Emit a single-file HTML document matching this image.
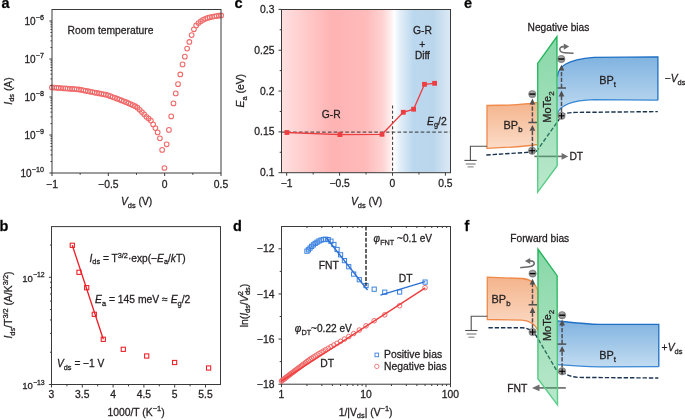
<!DOCTYPE html>
<html><head><meta charset="utf-8"><style>
html,body{margin:0;padding:0;background:#fff;}
svg{display:block;will-change:transform;font-family:"Liberation Sans", sans-serif;}
text{stroke:#231f20;stroke-width:0.28px;}
</style></head><body>
<svg width="685" height="420" viewBox="0 0 685 420">
<rect width="685" height="420" fill="#fff"/>
<text x="1.60" y="7.70" font-size="14.5" text-anchor="start" font-weight="bold" fill="#000" >a</text>
<text x="-0.60" y="230.60" font-size="14.5" text-anchor="start" font-weight="bold" fill="#000" >b</text>
<text x="234.60" y="7.90" font-size="14.5" text-anchor="start" font-weight="bold" fill="#000" >c</text>
<text x="232.90" y="230.70" font-size="14.5" text-anchor="start" font-weight="bold" fill="#000" >d</text>
<text x="463.90" y="7.90" font-size="14.5" text-anchor="start" font-weight="bold" fill="#000" >e</text>
<text x="464.40" y="230.80" font-size="14.5" text-anchor="start" font-weight="bold" fill="#000" >f</text>
<g fill="none" stroke="#f06a6a" stroke-width="1.05"><circle cx="164.40" cy="168.00" r="2.35"/><circle cx="162.15" cy="149.91" r="2.35"/><circle cx="159.90" cy="138.33" r="2.35"/><circle cx="157.65" cy="132.40" r="2.35"/><circle cx="155.40" cy="128.08" r="2.35"/><circle cx="153.15" cy="124.40" r="2.35"/><circle cx="150.90" cy="120.60" r="2.35"/><circle cx="148.65" cy="118.55" r="2.35"/><circle cx="146.40" cy="116.85" r="2.35"/><circle cx="144.15" cy="114.25" r="2.35"/><circle cx="141.90" cy="112.09" r="2.35"/><circle cx="139.65" cy="109.77" r="2.35"/><circle cx="137.40" cy="107.72" r="2.35"/><circle cx="135.15" cy="106.20" r="2.35"/><circle cx="132.90" cy="105.14" r="2.35"/><circle cx="130.65" cy="104.18" r="2.35"/><circle cx="128.40" cy="103.20" r="2.35"/><circle cx="126.15" cy="102.21" r="2.35"/><circle cx="123.90" cy="101.25" r="2.35"/><circle cx="121.65" cy="100.40" r="2.35"/><circle cx="119.40" cy="99.56" r="2.35"/><circle cx="117.15" cy="98.71" r="2.35"/><circle cx="114.90" cy="97.87" r="2.35"/><circle cx="112.65" cy="97.02" r="2.35"/><circle cx="110.40" cy="96.18" r="2.35"/><circle cx="108.15" cy="95.33" r="2.35"/><circle cx="105.90" cy="94.69" r="2.35"/><circle cx="103.65" cy="94.25" r="2.35"/><circle cx="101.40" cy="93.82" r="2.35"/><circle cx="99.15" cy="93.38" r="2.35"/><circle cx="96.90" cy="92.94" r="2.35"/><circle cx="94.65" cy="92.51" r="2.35"/><circle cx="92.40" cy="92.07" r="2.35"/><circle cx="90.15" cy="91.64" r="2.35"/><circle cx="87.90" cy="91.20" r="2.35"/><circle cx="85.65" cy="90.77" r="2.35"/><circle cx="83.40" cy="90.33" r="2.35"/><circle cx="81.15" cy="89.89" r="2.35"/><circle cx="78.90" cy="89.46" r="2.35"/><circle cx="76.65" cy="89.26" r="2.35"/><circle cx="74.40" cy="89.09" r="2.35"/><circle cx="72.15" cy="88.92" r="2.35"/><circle cx="69.90" cy="88.76" r="2.35"/><circle cx="67.65" cy="88.59" r="2.35"/><circle cx="65.40" cy="88.43" r="2.35"/><circle cx="63.15" cy="88.26" r="2.35"/><circle cx="60.90" cy="88.09" r="2.35"/><circle cx="58.65" cy="87.93" r="2.35"/><circle cx="56.40" cy="87.76" r="2.35"/><circle cx="54.15" cy="87.60" r="2.35"/><circle cx="51.90" cy="87.43" r="2.35"/><circle cx="166.67" cy="144.26" r="2.35"/><circle cx="168.94" cy="129.91" r="2.35"/><circle cx="171.21" cy="116.43" r="2.35"/><circle cx="173.48" cy="103.40" r="2.35"/><circle cx="175.75" cy="93.40" r="2.35"/><circle cx="178.02" cy="84.13" r="2.35"/><circle cx="180.29" cy="74.47" r="2.35"/><circle cx="182.56" cy="64.39" r="2.35"/><circle cx="184.83" cy="56.64" r="2.35"/><circle cx="187.10" cy="48.61" r="2.35"/><circle cx="189.37" cy="41.99" r="2.35"/><circle cx="191.64" cy="35.12" r="2.35"/><circle cx="193.91" cy="29.28" r="2.35"/><circle cx="196.18" cy="25.38" r="2.35"/><circle cx="198.45" cy="23.00" r="2.35"/><circle cx="200.72" cy="21.32" r="2.35"/><circle cx="202.99" cy="19.87" r="2.35"/><circle cx="205.26" cy="18.79" r="2.35"/><circle cx="207.53" cy="17.91" r="2.35"/><circle cx="209.80" cy="17.36" r="2.35"/><circle cx="212.07" cy="16.85" r="2.35"/><circle cx="214.34" cy="16.34" r="2.35"/><circle cx="216.61" cy="16.01" r="2.35"/><circle cx="218.88" cy="15.72" r="2.35"/><circle cx="221.15" cy="15.45" r="2.35"/></g>
<rect x="52.00" y="9.50" width="169.00" height="163.50" fill="none" stroke="#3a3a3a" stroke-width="1"/>
<line x1="52.00" y1="173.00" x2="52.00" y2="176.00" stroke="#3a3a3a" stroke-width="1" />
<line x1="108.33" y1="173.00" x2="108.33" y2="176.00" stroke="#3a3a3a" stroke-width="1" />
<line x1="164.67" y1="173.00" x2="164.67" y2="176.00" stroke="#3a3a3a" stroke-width="1" />
<line x1="221.00" y1="173.00" x2="221.00" y2="176.00" stroke="#3a3a3a" stroke-width="1" />
<line x1="80.17" y1="173.00" x2="80.17" y2="174.80" stroke="#3a3a3a" stroke-width="1" />
<line x1="136.50" y1="173.00" x2="136.50" y2="174.80" stroke="#3a3a3a" stroke-width="1" />
<line x1="192.83" y1="173.00" x2="192.83" y2="174.80" stroke="#3a3a3a" stroke-width="1" />
<text x="52.00" y="187.60" font-size="10.35" text-anchor="middle" font-weight="normal" fill="#231f20" >−1</text>
<text x="108.33" y="187.60" font-size="10.35" text-anchor="middle" font-weight="normal" fill="#231f20" >−0.5</text>
<text x="164.67" y="187.60" font-size="10.35" text-anchor="middle" font-weight="normal" fill="#231f20" >0</text>
<text x="221.00" y="187.60" font-size="10.35" text-anchor="middle" font-weight="normal" fill="#231f20" >0.5</text>
<line x1="49.40" y1="173.00" x2="52.00" y2="173.00" stroke="#3a3a3a" stroke-width="1" />
<line x1="50.50" y1="161.56" x2="52.00" y2="161.56" stroke="#3a3a3a" stroke-width="1" />
<line x1="50.50" y1="154.87" x2="52.00" y2="154.87" stroke="#3a3a3a" stroke-width="1" />
<line x1="50.50" y1="150.12" x2="52.00" y2="150.12" stroke="#3a3a3a" stroke-width="1" />
<line x1="50.50" y1="146.44" x2="52.00" y2="146.44" stroke="#3a3a3a" stroke-width="1" />
<line x1="50.50" y1="143.43" x2="52.00" y2="143.43" stroke="#3a3a3a" stroke-width="1" />
<line x1="50.50" y1="140.89" x2="52.00" y2="140.89" stroke="#3a3a3a" stroke-width="1" />
<line x1="50.50" y1="138.68" x2="52.00" y2="138.68" stroke="#3a3a3a" stroke-width="1" />
<line x1="50.50" y1="136.74" x2="52.00" y2="136.74" stroke="#3a3a3a" stroke-width="1" />
<line x1="49.40" y1="135.00" x2="52.00" y2="135.00" stroke="#3a3a3a" stroke-width="1" />
<line x1="50.50" y1="123.56" x2="52.00" y2="123.56" stroke="#3a3a3a" stroke-width="1" />
<line x1="50.50" y1="116.87" x2="52.00" y2="116.87" stroke="#3a3a3a" stroke-width="1" />
<line x1="50.50" y1="112.12" x2="52.00" y2="112.12" stroke="#3a3a3a" stroke-width="1" />
<line x1="50.50" y1="108.44" x2="52.00" y2="108.44" stroke="#3a3a3a" stroke-width="1" />
<line x1="50.50" y1="105.43" x2="52.00" y2="105.43" stroke="#3a3a3a" stroke-width="1" />
<line x1="50.50" y1="102.89" x2="52.00" y2="102.89" stroke="#3a3a3a" stroke-width="1" />
<line x1="50.50" y1="100.68" x2="52.00" y2="100.68" stroke="#3a3a3a" stroke-width="1" />
<line x1="50.50" y1="98.74" x2="52.00" y2="98.74" stroke="#3a3a3a" stroke-width="1" />
<line x1="49.40" y1="97.00" x2="52.00" y2="97.00" stroke="#3a3a3a" stroke-width="1" />
<line x1="50.50" y1="85.56" x2="52.00" y2="85.56" stroke="#3a3a3a" stroke-width="1" />
<line x1="50.50" y1="78.87" x2="52.00" y2="78.87" stroke="#3a3a3a" stroke-width="1" />
<line x1="50.50" y1="74.12" x2="52.00" y2="74.12" stroke="#3a3a3a" stroke-width="1" />
<line x1="50.50" y1="70.44" x2="52.00" y2="70.44" stroke="#3a3a3a" stroke-width="1" />
<line x1="50.50" y1="67.43" x2="52.00" y2="67.43" stroke="#3a3a3a" stroke-width="1" />
<line x1="50.50" y1="64.89" x2="52.00" y2="64.89" stroke="#3a3a3a" stroke-width="1" />
<line x1="50.50" y1="62.68" x2="52.00" y2="62.68" stroke="#3a3a3a" stroke-width="1" />
<line x1="50.50" y1="60.74" x2="52.00" y2="60.74" stroke="#3a3a3a" stroke-width="1" />
<line x1="49.40" y1="59.00" x2="52.00" y2="59.00" stroke="#3a3a3a" stroke-width="1" />
<line x1="50.50" y1="47.56" x2="52.00" y2="47.56" stroke="#3a3a3a" stroke-width="1" />
<line x1="50.50" y1="40.87" x2="52.00" y2="40.87" stroke="#3a3a3a" stroke-width="1" />
<line x1="50.50" y1="36.12" x2="52.00" y2="36.12" stroke="#3a3a3a" stroke-width="1" />
<line x1="50.50" y1="32.44" x2="52.00" y2="32.44" stroke="#3a3a3a" stroke-width="1" />
<line x1="50.50" y1="29.43" x2="52.00" y2="29.43" stroke="#3a3a3a" stroke-width="1" />
<line x1="50.50" y1="26.89" x2="52.00" y2="26.89" stroke="#3a3a3a" stroke-width="1" />
<line x1="50.50" y1="24.68" x2="52.00" y2="24.68" stroke="#3a3a3a" stroke-width="1" />
<line x1="50.50" y1="22.74" x2="52.00" y2="22.74" stroke="#3a3a3a" stroke-width="1" />
<line x1="49.40" y1="21.00" x2="52.00" y2="21.00" stroke="#3a3a3a" stroke-width="1" />
<text x="43.90" y="176.70" font-size="10" text-anchor="end" fill="#231f20" ><tspan dy="-0.0">10</tspan><tspan dy="-4.9" font-size="7.20">−10</tspan></text>
<text x="43.90" y="138.70" font-size="10" text-anchor="end" fill="#231f20" ><tspan dy="-0.0">10</tspan><tspan dy="-4.9" font-size="7.20">−9</tspan></text>
<text x="43.90" y="100.70" font-size="10" text-anchor="end" fill="#231f20" ><tspan dy="-0.0">10</tspan><tspan dy="-4.9" font-size="7.20">−8</tspan></text>
<text x="43.90" y="62.70" font-size="10" text-anchor="end" fill="#231f20" ><tspan dy="-0.0">10</tspan><tspan dy="-4.9" font-size="7.20">−7</tspan></text>
<text x="43.90" y="24.70" font-size="10" text-anchor="end" fill="#231f20" ><tspan dy="-0.0">10</tspan><tspan dy="-4.9" font-size="7.20">−6</tspan></text>
<text x="0.00" y="0.00" font-size="10.35" text-anchor="start" fill="#231f20" ><tspan dy="-0.0"></tspan></text>
<g transform="translate(11.5,91) rotate(-90)">
<text x="0.00" y="0.00" font-size="10.35" text-anchor="middle" fill="#231f20" ><tspan dy="-0.0" font-style="italic">I</tspan><tspan dy="2.5" font-size="7.45">ds</tspan><tspan dy="-2.5"> (A)</tspan></text>
</g>
<text x="136.60" y="205.20" font-size="10.35" text-anchor="middle" fill="#231f20" ><tspan dy="-0.0" font-style="italic">V</tspan><tspan dy="2.5" font-size="7.45">ds</tspan><tspan dy="-2.5"> (V)</tspan></text>
<text x="67.60" y="34.10" font-size="10.3" text-anchor="start" font-weight="normal" fill="#231f20" >Room temperature</text>
<rect x="51.50" y="226.60" width="169.00" height="157.90" fill="none" stroke="#3a3a3a" stroke-width="1"/>
<line x1="51.50" y1="384.50" x2="51.50" y2="387.50" stroke="#3a3a3a" stroke-width="1" />
<line x1="82.30" y1="384.50" x2="82.30" y2="387.50" stroke="#3a3a3a" stroke-width="1" />
<line x1="113.10" y1="384.50" x2="113.10" y2="387.50" stroke="#3a3a3a" stroke-width="1" />
<line x1="143.90" y1="384.50" x2="143.90" y2="387.50" stroke="#3a3a3a" stroke-width="1" />
<line x1="174.70" y1="384.50" x2="174.70" y2="387.50" stroke="#3a3a3a" stroke-width="1" />
<line x1="205.50" y1="384.50" x2="205.50" y2="387.50" stroke="#3a3a3a" stroke-width="1" />
<line x1="66.90" y1="384.50" x2="66.90" y2="386.30" stroke="#3a3a3a" stroke-width="1" />
<line x1="97.70" y1="384.50" x2="97.70" y2="386.30" stroke="#3a3a3a" stroke-width="1" />
<line x1="128.50" y1="384.50" x2="128.50" y2="386.30" stroke="#3a3a3a" stroke-width="1" />
<line x1="159.30" y1="384.50" x2="159.30" y2="386.30" stroke="#3a3a3a" stroke-width="1" />
<line x1="190.10" y1="384.50" x2="190.10" y2="386.30" stroke="#3a3a3a" stroke-width="1" />
<text x="51.50" y="398.00" font-size="10.35" text-anchor="middle" font-weight="normal" fill="#231f20" >3</text>
<text x="82.30" y="398.00" font-size="10.35" text-anchor="middle" font-weight="normal" fill="#231f20" >3.5</text>
<text x="113.10" y="398.00" font-size="10.35" text-anchor="middle" font-weight="normal" fill="#231f20" >4</text>
<text x="143.90" y="398.00" font-size="10.35" text-anchor="middle" font-weight="normal" fill="#231f20" >4.5</text>
<text x="174.70" y="398.00" font-size="10.35" text-anchor="middle" font-weight="normal" fill="#231f20" >5</text>
<text x="205.50" y="398.00" font-size="10.35" text-anchor="middle" font-weight="normal" fill="#231f20" >5.5</text>
<line x1="48.90" y1="384.50" x2="51.50" y2="384.50" stroke="#3a3a3a" stroke-width="1" />
<line x1="48.90" y1="277.30" x2="51.50" y2="277.30" stroke="#3a3a3a" stroke-width="1" />
<line x1="50.00" y1="352.23" x2="51.50" y2="352.23" stroke="#3a3a3a" stroke-width="1" />
<line x1="50.00" y1="333.35" x2="51.50" y2="333.35" stroke="#3a3a3a" stroke-width="1" />
<line x1="50.00" y1="319.96" x2="51.50" y2="319.96" stroke="#3a3a3a" stroke-width="1" />
<line x1="50.00" y1="309.57" x2="51.50" y2="309.57" stroke="#3a3a3a" stroke-width="1" />
<line x1="50.00" y1="301.08" x2="51.50" y2="301.08" stroke="#3a3a3a" stroke-width="1" />
<line x1="50.00" y1="293.91" x2="51.50" y2="293.91" stroke="#3a3a3a" stroke-width="1" />
<line x1="50.00" y1="287.69" x2="51.50" y2="287.69" stroke="#3a3a3a" stroke-width="1" />
<line x1="50.00" y1="282.21" x2="51.50" y2="282.21" stroke="#3a3a3a" stroke-width="1" />
<line x1="50.00" y1="245.03" x2="51.50" y2="245.03" stroke="#3a3a3a" stroke-width="1" />
<text x="44.60" y="388.90" font-size="9.6" text-anchor="end" fill="#231f20" ><tspan dy="-0.0">10</tspan><tspan dy="-4.3" font-size="6.91">−13</tspan></text>
<text x="44.60" y="281.70" font-size="9.6" text-anchor="end" fill="#231f20" ><tspan dy="-0.0">10</tspan><tspan dy="-4.3" font-size="6.91">−12</tspan></text>
<line x1="72.30" y1="245.30" x2="103.30" y2="339.30" stroke="#ed1c24" stroke-width="1.3" />
<g fill="none" stroke="#ed1c24" stroke-width="1.05"><rect x="70.20" y="243.20" width="4.2" height="4.2"/><rect x="76.90" y="270.20" width="4.2" height="4.2"/><rect x="84.60" y="285.60" width="4.2" height="4.2"/><rect x="92.20" y="312.20" width="4.2" height="4.2"/><rect x="101.20" y="337.20" width="4.2" height="4.2"/><rect x="121.20" y="347.20" width="4.2" height="4.2"/><rect x="144.60" y="353.90" width="4.2" height="4.2"/><rect x="172.50" y="360.40" width="4.2" height="4.2"/><rect x="206.50" y="365.90" width="4.2" height="4.2"/></g>
<text x="89.50" y="261.90" font-size="10.2" text-anchor="start" fill="#231f20" ><tspan dy="-0.0" font-style="italic">I</tspan><tspan dy="2.5" font-size="7.34">ds</tspan><tspan dy="-2.5"> = T</tspan><tspan dy="-4.4" font-size="7.34">3/2</tspan><tspan dy="4.4">·exp(−</tspan><tspan dy="0" font-style="italic">E</tspan><tspan dy="2.5" font-size="7.34">a</tspan><tspan dy="-2.5">/</tspan><tspan dy="0" font-style="italic">k</tspan><tspan dy="0">T)</tspan></text>
<text x="95.00" y="303.10" font-size="10.35" text-anchor="start" fill="#231f20" ><tspan dy="-0.0" font-style="italic">E</tspan><tspan dy="2.5" font-size="7.45">a</tspan><tspan dy="-2.5"> = 145 meV ≈ </tspan><tspan dy="0" font-style="italic">E</tspan><tspan dy="2.5" font-size="7.45">g</tspan><tspan dy="-2.5">/2</tspan></text>
<text x="57.00" y="367.10" font-size="10.2" text-anchor="start" fill="#231f20" ><tspan dy="-0.0" font-style="italic">V</tspan><tspan dy="2.5" font-size="7.34">ds</tspan><tspan dy="-2.5"> = −1 V</tspan></text>
<g transform="translate(12.2,305) rotate(-90)">
<text x="0.00" y="0.00" font-size="10.35" text-anchor="middle" fill="#231f20" ><tspan dy="-0.0" font-style="italic">I</tspan><tspan dy="2.5" font-size="7.45">ds</tspan><tspan dy="-2.5">/T</tspan><tspan dy="-4.4" font-size="7.45">3/2</tspan><tspan dy="4.4"> (A/K</tspan><tspan dy="-4.4" font-size="7.45">3/2</tspan><tspan dy="4.4">)</tspan></text>
</g>
<text x="136.00" y="415.50" font-size="10.35" text-anchor="middle" fill="#231f20" ><tspan dy="-0.0">1000/T (K</tspan><tspan dy="-4.4" font-size="7.45">−1</tspan><tspan dy="4.4">)</tspan></text>
<defs>
<linearGradient id="gc" x1="281.3" y1="0" x2="450.3" y2="0" gradientUnits="userSpaceOnUse">
<stop offset="0" stop-color="#ffe0e0"/>
<stop offset="0.3" stop-color="#ffb3b3"/>
<stop offset="0.5" stop-color="#ffbaba"/>
<stop offset="0.6" stop-color="#ffd3d3"/>
<stop offset="0.65" stop-color="#fff0f0"/>
<stop offset="0.668" stop-color="#ffffff"/>
<stop offset="0.7" stop-color="#e4eff8"/>
<stop offset="0.78" stop-color="#bcd8ee"/>
<stop offset="0.9" stop-color="#bad6ec"/>
<stop offset="1" stop-color="#dde9f5"/>
</linearGradient>
</defs>
<rect x="281.5" y="9.5" width="169.0" height="163.2" fill="url(#gc)"/>
<line x1="281.50" y1="132.10" x2="450.50" y2="132.10" stroke="#333" stroke-width="1" stroke-dasharray="3.6 2.2"/>
<line x1="392.60" y1="105.50" x2="392.60" y2="172.70" stroke="#333" stroke-width="1" stroke-dasharray="3 2.2"/>
<polyline fill="none" stroke="#ec3d40" stroke-width="1.35" points="286.9,132.5 339.9,134.6 382,134.3 403.3,112.3 413.6,109.2 424.5,84.3 434.6,83.3"/>
<g fill="#ec3d40"><rect x="284.50" y="130.10" width="4.8" height="4.8"/><rect x="337.50" y="132.20" width="4.8" height="4.8"/><rect x="379.60" y="131.90" width="4.8" height="4.8"/><rect x="400.90" y="109.90" width="4.8" height="4.8"/><rect x="411.20" y="106.80" width="4.8" height="4.8"/><rect x="422.10" y="81.90" width="4.8" height="4.8"/><rect x="432.20" y="80.90" width="4.8" height="4.8"/></g>
<rect x="281.50" y="9.50" width="169.00" height="163.20" fill="none" stroke="#3a3a3a" stroke-width="1"/>
<line x1="286.70" y1="172.70" x2="286.70" y2="175.70" stroke="#3a3a3a" stroke-width="1" />
<line x1="339.60" y1="172.70" x2="339.60" y2="175.70" stroke="#3a3a3a" stroke-width="1" />
<line x1="392.50" y1="172.70" x2="392.50" y2="175.70" stroke="#3a3a3a" stroke-width="1" />
<line x1="445.40" y1="172.70" x2="445.40" y2="175.70" stroke="#3a3a3a" stroke-width="1" />
<line x1="313.15" y1="172.70" x2="313.15" y2="174.50" stroke="#3a3a3a" stroke-width="1" />
<line x1="366.05" y1="172.70" x2="366.05" y2="174.50" stroke="#3a3a3a" stroke-width="1" />
<line x1="418.95" y1="172.70" x2="418.95" y2="174.50" stroke="#3a3a3a" stroke-width="1" />
<text x="286.70" y="186.80" font-size="10.35" text-anchor="middle" font-weight="normal" fill="#231f20" >−1</text>
<text x="339.60" y="186.80" font-size="10.35" text-anchor="middle" font-weight="normal" fill="#231f20" >−0.5</text>
<text x="392.50" y="186.80" font-size="10.35" text-anchor="middle" font-weight="normal" fill="#231f20" >0</text>
<text x="445.40" y="186.80" font-size="10.35" text-anchor="middle" font-weight="normal" fill="#231f20" >0.5</text>
<line x1="278.50" y1="172.70" x2="281.50" y2="172.70" stroke="#3a3a3a" stroke-width="1" />
<text x="274.40" y="176.30" font-size="10.35" text-anchor="end" font-weight="normal" fill="#231f20" >0.1</text>
<line x1="278.50" y1="131.88" x2="281.50" y2="131.88" stroke="#3a3a3a" stroke-width="1" />
<text x="274.40" y="135.47" font-size="10.35" text-anchor="end" font-weight="normal" fill="#231f20" >0.15</text>
<line x1="278.50" y1="91.05" x2="281.50" y2="91.05" stroke="#3a3a3a" stroke-width="1" />
<text x="274.40" y="94.65" font-size="10.35" text-anchor="end" font-weight="normal" fill="#231f20" >0.2</text>
<line x1="278.50" y1="50.22" x2="281.50" y2="50.22" stroke="#3a3a3a" stroke-width="1" />
<text x="274.40" y="53.82" font-size="10.35" text-anchor="end" font-weight="normal" fill="#231f20" >0.25</text>
<line x1="278.50" y1="9.40" x2="281.50" y2="9.40" stroke="#3a3a3a" stroke-width="1" />
<text x="274.40" y="13.00" font-size="10.35" text-anchor="end" font-weight="normal" fill="#231f20" >0.3</text>
<line x1="279.70" y1="152.29" x2="281.50" y2="152.29" stroke="#3a3a3a" stroke-width="1" />
<line x1="279.70" y1="111.46" x2="281.50" y2="111.46" stroke="#3a3a3a" stroke-width="1" />
<line x1="279.70" y1="70.64" x2="281.50" y2="70.64" stroke="#3a3a3a" stroke-width="1" />
<line x1="279.70" y1="29.81" x2="281.50" y2="29.81" stroke="#3a3a3a" stroke-width="1" />
<text x="321.70" y="118.00" font-size="10.35" text-anchor="start" font-weight="normal" fill="#231f20" >G-R</text>
<text x="412.90" y="34.00" font-size="10.35" text-anchor="start" font-weight="normal" fill="#231f20" >G-R</text>
<text x="422.20" y="47.60" font-size="10.35" text-anchor="middle" font-weight="normal" fill="#231f20" >+</text>
<text x="414.90" y="58.50" font-size="10.1" text-anchor="start" font-weight="normal" fill="#231f20" >Diff</text>
<text x="427.00" y="124.50" font-size="10.35" text-anchor="start" fill="#231f20" ><tspan dy="-0.0" font-style="italic">E</tspan><tspan dy="2.5" font-size="7.45">g</tspan><tspan dy="-2.5">/2</tspan></text>
<g transform="translate(244.1,90.7) rotate(-90)">
<text x="0.00" y="0.00" font-size="10.35" text-anchor="middle" fill="#231f20" ><tspan dy="-0.0" font-style="italic">E</tspan><tspan dy="2.5" font-size="7.45">a</tspan><tspan dy="-2.5"> (eV)</tspan></text>
</g>
<text x="366.60" y="205.40" font-size="10.35" text-anchor="middle" fill="#231f20" ><tspan dy="-0.0" font-style="italic">V</tspan><tspan dy="2.5" font-size="7.45">ds</tspan><tspan dy="-2.5"> (V)</tspan></text>
<rect x="281.50" y="226.50" width="169.00" height="157.70" fill="none" stroke="#3a3a3a" stroke-width="1"/>
<line x1="281.50" y1="384.20" x2="281.50" y2="387.20" stroke="#3a3a3a" stroke-width="1" />
<text x="281.50" y="397.70" font-size="10.35" text-anchor="middle" font-weight="normal" fill="#231f20" >1</text>
<line x1="366.00" y1="384.20" x2="366.00" y2="387.20" stroke="#3a3a3a" stroke-width="1" />
<text x="366.00" y="397.70" font-size="10.35" text-anchor="middle" font-weight="normal" fill="#231f20" >10</text>
<line x1="450.50" y1="384.20" x2="450.50" y2="387.20" stroke="#3a3a3a" stroke-width="1" />
<text x="450.50" y="397.70" font-size="10.35" text-anchor="middle" font-weight="normal" fill="#231f20" >100</text>
<line x1="306.94" y1="384.20" x2="306.94" y2="386.00" stroke="#3a3a3a" stroke-width="1" />
<line x1="306.94" y1="226.50" x2="306.94" y2="228.00" stroke="#3a3a3a" stroke-width="1" />
<line x1="321.82" y1="384.20" x2="321.82" y2="386.00" stroke="#3a3a3a" stroke-width="1" />
<line x1="321.82" y1="226.50" x2="321.82" y2="228.00" stroke="#3a3a3a" stroke-width="1" />
<line x1="332.37" y1="384.20" x2="332.37" y2="386.00" stroke="#3a3a3a" stroke-width="1" />
<line x1="332.37" y1="226.50" x2="332.37" y2="228.00" stroke="#3a3a3a" stroke-width="1" />
<line x1="340.56" y1="384.20" x2="340.56" y2="386.00" stroke="#3a3a3a" stroke-width="1" />
<line x1="340.56" y1="226.50" x2="340.56" y2="228.00" stroke="#3a3a3a" stroke-width="1" />
<line x1="347.25" y1="384.20" x2="347.25" y2="386.00" stroke="#3a3a3a" stroke-width="1" />
<line x1="347.25" y1="226.50" x2="347.25" y2="228.00" stroke="#3a3a3a" stroke-width="1" />
<line x1="352.91" y1="384.20" x2="352.91" y2="386.00" stroke="#3a3a3a" stroke-width="1" />
<line x1="352.91" y1="226.50" x2="352.91" y2="228.00" stroke="#3a3a3a" stroke-width="1" />
<line x1="357.81" y1="384.20" x2="357.81" y2="386.00" stroke="#3a3a3a" stroke-width="1" />
<line x1="357.81" y1="226.50" x2="357.81" y2="228.00" stroke="#3a3a3a" stroke-width="1" />
<line x1="362.13" y1="384.20" x2="362.13" y2="386.00" stroke="#3a3a3a" stroke-width="1" />
<line x1="362.13" y1="226.50" x2="362.13" y2="228.00" stroke="#3a3a3a" stroke-width="1" />
<line x1="391.44" y1="384.20" x2="391.44" y2="386.00" stroke="#3a3a3a" stroke-width="1" />
<line x1="391.44" y1="226.50" x2="391.44" y2="228.00" stroke="#3a3a3a" stroke-width="1" />
<line x1="406.32" y1="384.20" x2="406.32" y2="386.00" stroke="#3a3a3a" stroke-width="1" />
<line x1="406.32" y1="226.50" x2="406.32" y2="228.00" stroke="#3a3a3a" stroke-width="1" />
<line x1="416.87" y1="384.20" x2="416.87" y2="386.00" stroke="#3a3a3a" stroke-width="1" />
<line x1="416.87" y1="226.50" x2="416.87" y2="228.00" stroke="#3a3a3a" stroke-width="1" />
<line x1="425.06" y1="384.20" x2="425.06" y2="386.00" stroke="#3a3a3a" stroke-width="1" />
<line x1="425.06" y1="226.50" x2="425.06" y2="228.00" stroke="#3a3a3a" stroke-width="1" />
<line x1="431.75" y1="384.20" x2="431.75" y2="386.00" stroke="#3a3a3a" stroke-width="1" />
<line x1="431.75" y1="226.50" x2="431.75" y2="228.00" stroke="#3a3a3a" stroke-width="1" />
<line x1="437.41" y1="384.20" x2="437.41" y2="386.00" stroke="#3a3a3a" stroke-width="1" />
<line x1="437.41" y1="226.50" x2="437.41" y2="228.00" stroke="#3a3a3a" stroke-width="1" />
<line x1="442.31" y1="384.20" x2="442.31" y2="386.00" stroke="#3a3a3a" stroke-width="1" />
<line x1="442.31" y1="226.50" x2="442.31" y2="228.00" stroke="#3a3a3a" stroke-width="1" />
<line x1="446.63" y1="384.20" x2="446.63" y2="386.00" stroke="#3a3a3a" stroke-width="1" />
<line x1="446.63" y1="226.50" x2="446.63" y2="228.00" stroke="#3a3a3a" stroke-width="1" />
<line x1="278.50" y1="248.80" x2="281.50" y2="248.80" stroke="#3a3a3a" stroke-width="1" />
<text x="274.40" y="252.40" font-size="10.35" text-anchor="end" font-weight="normal" fill="#231f20" >−12</text>
<line x1="278.50" y1="293.94" x2="281.50" y2="293.94" stroke="#3a3a3a" stroke-width="1" />
<text x="274.40" y="297.54" font-size="10.35" text-anchor="end" font-weight="normal" fill="#231f20" >−14</text>
<line x1="278.50" y1="339.08" x2="281.50" y2="339.08" stroke="#3a3a3a" stroke-width="1" />
<text x="274.40" y="342.68" font-size="10.35" text-anchor="end" font-weight="normal" fill="#231f20" >−16</text>
<line x1="278.50" y1="384.22" x2="281.50" y2="384.22" stroke="#3a3a3a" stroke-width="1" />
<text x="274.40" y="387.82" font-size="10.35" text-anchor="end" font-weight="normal" fill="#231f20" >−18</text>
<line x1="279.70" y1="271.37" x2="281.50" y2="271.37" stroke="#3a3a3a" stroke-width="1" />
<line x1="279.70" y1="316.51" x2="281.50" y2="316.51" stroke="#3a3a3a" stroke-width="1" />
<line x1="279.70" y1="361.65" x2="281.50" y2="361.65" stroke="#3a3a3a" stroke-width="1" />
<g fill="none" stroke="#f06a6a" stroke-width="1"><circle cx="425.06" cy="287.69" r="2.3"/><circle cx="399.63" cy="305.71" r="2.3"/><circle cx="384.75" cy="314.84" r="2.3"/><circle cx="374.19" cy="320.73" r="2.3"/><circle cx="366.00" cy="325.84" r="2.3"/><circle cx="359.31" cy="330.04" r="2.3"/><circle cx="353.65" cy="333.59" r="2.3"/><circle cx="348.75" cy="336.60" r="2.3"/><circle cx="344.43" cy="339.10" r="2.3"/><circle cx="340.56" cy="341.34" r="2.3"/><circle cx="337.07" cy="343.30" r="2.3"/><circle cx="333.87" cy="345.08" r="2.3"/><circle cx="330.93" cy="346.72" r="2.3"/><circle cx="328.22" cy="348.27" r="2.3"/><circle cx="325.68" cy="349.74" r="2.3"/><circle cx="323.31" cy="351.11" r="2.3"/><circle cx="321.09" cy="352.39" r="2.3"/><circle cx="318.99" cy="353.65" r="2.3"/><circle cx="317.01" cy="354.87" r="2.3"/><circle cx="315.13" cy="356.03" r="2.3"/><circle cx="313.34" cy="357.14" r="2.3"/><circle cx="311.63" cy="358.20" r="2.3"/><circle cx="310.00" cy="359.20" r="2.3"/><circle cx="308.44" cy="360.40" r="2.3"/><circle cx="306.94" cy="361.55" r="2.3"/><circle cx="305.50" cy="362.66" r="2.3"/><circle cx="304.11" cy="363.72" r="2.3"/><circle cx="302.78" cy="364.75" r="2.3"/><circle cx="301.49" cy="365.74" r="2.3"/><circle cx="300.25" cy="366.69" r="2.3"/><circle cx="299.04" cy="367.61" r="2.3"/><circle cx="297.88" cy="368.49" r="2.3"/><circle cx="296.75" cy="369.35" r="2.3"/><circle cx="295.65" cy="370.18" r="2.3"/><circle cx="294.59" cy="370.98" r="2.3"/><circle cx="293.56" cy="371.77" r="2.3"/><circle cx="292.55" cy="372.53" r="2.3"/><circle cx="291.57" cy="373.27" r="2.3"/><circle cx="290.62" cy="373.99" r="2.3"/><circle cx="289.69" cy="374.70" r="2.3"/><circle cx="288.78" cy="375.41" r="2.3"/><circle cx="287.90" cy="376.09" r="2.3"/><circle cx="287.03" cy="376.76" r="2.3"/><circle cx="286.19" cy="377.41" r="2.3"/><circle cx="285.37" cy="378.05" r="2.3"/><circle cx="284.56" cy="378.68" r="2.3"/><circle cx="283.77" cy="379.29" r="2.3"/><circle cx="283.00" cy="379.88" r="2.3"/><circle cx="282.24" cy="380.47" r="2.3"/><circle cx="281.50" cy="381.05" r="2.3"/></g>
<line x1="281.30" y1="381.20" x2="425.30" y2="287.89" stroke="#f03c3c" stroke-width="1.4" />
<g fill="none" stroke="#3d82e0" stroke-width="1"><rect x="422.96" y="280.00" width="4.2" height="4.2"/><rect x="397.53" y="289.90" width="4.2" height="4.2"/><rect x="382.65" y="290.10" width="4.2" height="4.2"/><rect x="372.09" y="287.10" width="4.2" height="4.2"/><rect x="363.90" y="283.50" width="4.2" height="4.2"/><rect x="357.21" y="277.60" width="4.2" height="4.2"/><rect x="351.55" y="272.00" width="4.2" height="4.2"/><rect x="346.65" y="264.60" width="4.2" height="4.2"/><rect x="342.33" y="258.50" width="4.2" height="4.2"/><rect x="338.46" y="252.70" width="4.2" height="4.2"/><rect x="334.97" y="247.40" width="4.2" height="4.2"/><rect x="331.77" y="242.40" width="4.2" height="4.2"/><rect x="328.83" y="239.10" width="4.2" height="4.2"/><rect x="326.12" y="237.50" width="4.2" height="4.2"/><rect x="323.58" y="237.10" width="4.2" height="4.2"/><rect x="321.21" y="237.40" width="4.2" height="4.2"/><rect x="318.99" y="238.00" width="4.2" height="4.2"/><rect x="316.89" y="238.90" width="4.2" height="4.2"/><rect x="314.91" y="240.10" width="4.2" height="4.2"/><rect x="313.03" y="241.30" width="4.2" height="4.2"/><rect x="311.24" y="242.80" width="4.2" height="4.2"/><rect x="309.53" y="244.30" width="4.2" height="4.2"/><rect x="307.90" y="246.00" width="4.2" height="4.2"/><rect x="306.34" y="247.70" width="4.2" height="4.2"/><rect x="304.84" y="249.10" width="4.2" height="4.2"/></g>
<line x1="326.50" y1="238.00" x2="367.50" y2="290.00" stroke="#2a6fd6" stroke-width="1.4" />
<line x1="380.40" y1="295.10" x2="425.30" y2="281.60" stroke="#2a6fd6" stroke-width="1.4" />
<line x1="366.00" y1="226.50" x2="366.00" y2="286.00" stroke="#111" stroke-width="1.3" stroke-dasharray="4 1.6"/>
<text x="373.60" y="242.10" font-size="10.05" text-anchor="start" fill="#231f20" ><tspan dy="-0.0" font-style="italic">φ</tspan><tspan dy="2.5" font-size="7.24">FNT</tspan><tspan dy="-2.5"> ~0.1 eV</tspan></text>
<text x="294.80" y="332.10" font-size="10.1" text-anchor="start" fill="#231f20" ><tspan dy="-0.0" font-style="italic">φ</tspan><tspan dy="2.5" font-size="7.27">DT</tspan><tspan dy="-2.5">~0.22 eV</tspan></text>
<text x="318.80" y="269.20" font-size="10.35" text-anchor="start" font-weight="normal" fill="#231f20" >FNT</text>
<text x="398.80" y="282.10" font-size="10.35" text-anchor="start" font-weight="normal" fill="#231f20" >DT</text>
<text x="320.20" y="366.60" font-size="10.35" text-anchor="start" font-weight="normal" fill="#231f20" >DT</text>
<rect x="375" y="353.1" width="3.6" height="3.6" fill="#fff" stroke="#3d82e0" stroke-width="0.9"/>
<circle cx="376.8" cy="366.4" r="2.2" fill="none" stroke="#f07070" stroke-width="0.9"/>
<text x="384.00" y="358.30" font-size="10.35" text-anchor="start" font-weight="normal" fill="#231f20" >Positive bias</text>
<text x="384.00" y="369.70" font-size="10.35" text-anchor="start" font-weight="normal" fill="#231f20" >Negative bias</text>
<g transform="translate(247.6,305.5) rotate(-90)">
<text x="0.00" y="0.00" font-size="10.35" text-anchor="middle" fill="#231f20" ><tspan dy="-0.0">ln(</tspan><tspan dy="0" font-style="italic">I</tspan><tspan dy="2.5" font-size="7.45">ds</tspan><tspan dy="-2.5">/</tspan><tspan dy="0" font-style="italic">V</tspan><tspan dy="-4.2" font-size="7.45">2</tspan><tspan dy="6.5" dx="-3.9" font-size="7.45">ds</tspan><tspan dy="-2.3">)</tspan></text>
</g>
<text x="365.60" y="415.80" font-size="10.35" text-anchor="middle" fill="#231f20" ><tspan dy="-0.0">1/|V</tspan><tspan dy="2.5" font-size="7.45">ds</tspan><tspan dy="-2.5">| (V</tspan><tspan dy="-4.4" font-size="7.45">−1</tspan><tspan dy="4.4">)</tspan></text>
<defs>
<linearGradient id="gOr" x1="0" y1="0" x2="0" y2="1"><stop offset="0" stop-color="#f4b48c"/><stop offset="1" stop-color="#fbdcc8"/></linearGradient>
<linearGradient id="gBl" x1="0" y1="0" x2="0" y2="1"><stop offset="0" stop-color="#80b3e0"/><stop offset="1" stop-color="#c2dcf1"/></linearGradient>
<linearGradient id="gGr" x1="0" y1="0" x2="0" y2="1"><stop offset="0" stop-color="#3fbf72" stop-opacity="0.62"/><stop offset="1" stop-color="#3fbf72" stop-opacity="0.36"/></linearGradient>
<linearGradient id="gGrS" x1="0" y1="0" x2="0" y2="1"><stop offset="0" stop-color="#1db257"/><stop offset="1" stop-color="#5fcf8c"/></linearGradient>
<radialGradient id="gCi" cx="0.45" cy="0.4" r="0.65"><stop offset="0" stop-color="#b0b0b0"/><stop offset="1" stop-color="#808080"/></radialGradient>
</defs>
<text x="527.60" y="31.10" font-size="10.2" text-anchor="start" font-weight="normal" fill="#231f20" >Negative bias</text>
<path d="M487,105.5 C505,105.4 525,104.6 537.8,102.4 L537.8,144.5 C525,146.6 505,147.6 487,148.3 Z" fill="url(#gOr)" stroke="#f08a4a" stroke-width="1.3"/>
<path d="M557.5,76.5 C557.9,67 566,59.8 594,57.4 L657.9,56.8 L657.9,100.2 L594,99.7 C572,100.5 560,104.5 557.5,113.8 Z" fill="url(#gBl)"/>
<path d="M557.5,76.5 C557.9,67 566,59.8 594,57.4 L657.9,56.8 L657.9,100.2" fill="none" stroke="#1f70c4" stroke-width="1.3"/>
<path d="M657.9,100.2 L594,99.7 C572,100.5 560,104.5 557.5,113.8" fill="none" stroke="#3a88d4" stroke-width="1.2"/>
<path d="M487.0,146.25 L470.4,146.25 L470.4,160.4" fill="none" stroke="#4f4f4f" stroke-width="1.1"/>
<line x1="464.40" y1="160.40" x2="476.70" y2="160.40" stroke="#4f4f4f" stroke-width="1.1" />
<line x1="465.80" y1="164.00" x2="475.60" y2="164.00" stroke="#6a6a6a" stroke-width="1.0" />
<line x1="467.60" y1="166.90" x2="473.60" y2="166.90" stroke="#7a7a7a" stroke-width="1.0" />
<path d="M486.3,155 L528.5,152.3" fill="none" stroke="#1b3550" stroke-width="1.4" stroke-dasharray="4.4 1.9"/>
<path d="M561.5,115.8 C565,113 569,112.6 576,112.4 L657.8,111.6" fill="none" stroke="#1b3550" stroke-width="1.4" stroke-dasharray="4.4 1.9"/>
<path d="M536.3,151.6 L559.3,119.2" fill="none" stroke="#1b3550" stroke-width="1.4" stroke-dasharray="4.2 2"/>
<line x1="534.30" y1="156.40" x2="562.50" y2="156.40" stroke="#6e6e6e" stroke-width="1.6" />
<path d="M561.6,153.1 L568.2,156.4 L561.6,159.7 Z" fill="#6e6e6e"/>
<path d="M537.7,63.3 L556.9,36.7 L557.2,165.7 L537.7,192.1 Z" fill="url(#gGr)" stroke="url(#gGrS)" stroke-width="1.4"/>
<line x1="532.4" y1="147.0" x2="532.4" y2="130.3" stroke="#4f4f4f" stroke-width="1.5" stroke-dasharray="4.3 1.6"/>
<path d="M529.6,130.8 L532.4,124.9 L535.1999999999999,130.8 Z" fill="#4f4f4f"/>
<line x1="528.40" y1="122.50" x2="536.90" y2="122.50" stroke="#4f4f4f" stroke-width="1.5" />
<line x1="532.4" y1="122.5" x2="532.4" y2="104.0" stroke="#4f4f4f" stroke-width="1.5" stroke-dasharray="4.3 1.6"/>
<path d="M529.6,104.5 L532.4,98.60000000000001 L535.1999999999999,104.5 Z" fill="#4f4f4f"/>
<line x1="561.5" y1="112.0" x2="561.5" y2="95.89999999999999" stroke="#4f4f4f" stroke-width="1.5" stroke-dasharray="4.3 1.6"/>
<path d="M558.7,96.39999999999999 L561.5,90.5 L564.3,96.39999999999999 Z" fill="#4f4f4f"/>
<line x1="557.70" y1="88.00" x2="566.00" y2="88.00" stroke="#4f4f4f" stroke-width="1.5" />
<line x1="561.5" y1="88.0" x2="561.5" y2="70.1" stroke="#4f4f4f" stroke-width="1.5" stroke-dasharray="4.3 1.6"/>
<path d="M558.7,70.6 L561.5,64.7 L564.3,70.6 Z" fill="#4f4f4f"/>
<circle cx="532.1" cy="150.7" r="3.7" fill="url(#gCi)" stroke="#6a6a6a" stroke-width="0.5"/>
<line x1="529.2" y1="150.7" x2="535.0" y2="150.7" stroke="#000" stroke-width="1.1"/>
<line x1="532.1" y1="147.79999999999998" x2="532.1" y2="153.6" stroke="#000" stroke-width="1.1"/>
<circle cx="532.3" cy="94.1" r="3.7" fill="url(#gCi)" stroke="#6a6a6a" stroke-width="0.5"/>
<line x1="529.4" y1="94.1" x2="535.1999999999999" y2="94.1" stroke="#000" stroke-width="1.4"/>
<circle cx="561.5" cy="115.8" r="3.7" fill="url(#gCi)" stroke="#6a6a6a" stroke-width="0.5"/>
<line x1="558.6" y1="115.8" x2="564.4" y2="115.8" stroke="#000" stroke-width="1.1"/>
<line x1="561.5" y1="112.89999999999999" x2="561.5" y2="118.7" stroke="#000" stroke-width="1.1"/>
<circle cx="561.3" cy="59.0" r="3.7" fill="url(#gCi)" stroke="#6a6a6a" stroke-width="0.5"/>
<line x1="558.4" y1="59.0" x2="564.1999999999999" y2="59.0" stroke="#000" stroke-width="1.4"/>
<path d="M573.6,53.2 C570,53.1 566.5,52.9 564.4,52.7 C558.6,52.2 558.4,46.7 563.3,46.6 L564.6,46.6" fill="none" stroke="#6a6a6a" stroke-width="1.6"/>
<path d="M563.8,43.5 L569.2,46.6 L563.8,49.7 Z" fill="#6a6a6a"/>
<text x="569.40" y="159.70" font-size="10.35" text-anchor="start" font-weight="normal" fill="#231f20" >DT</text>
<text x="503.60" y="129.00" font-size="10.9" text-anchor="start" fill="#231f20" ><tspan dy="-0.0">BP</tspan><tspan dy="2.9" font-size="7.85">b</tspan></text>
<text x="599.30" y="83.90" font-size="10.9" text-anchor="start" fill="#231f20" ><tspan dy="-0.0">BP</tspan><tspan dy="2.9" font-size="7.85">t</tspan></text>
<g transform="translate(551.0,107.0) rotate(-90)">
<text x="0.00" y="0.00" font-size="11" text-anchor="middle" fill="#231f20" ><tspan dy="-0.0">MoTe</tspan><tspan dy="2.7" font-size="7.92">2</tspan></text>
</g>
<text x="664.60" y="82.10" font-size="10.35" text-anchor="start" fill="#231f20" ><tspan dy="-0.0">−</tspan><tspan dy="0" font-style="italic">V</tspan><tspan dy="2.6" font-size="7.45">ds</tspan></text>
<text x="510.30" y="241.50" font-size="10.2" text-anchor="start" font-weight="normal" fill="#231f20" >Forward bias</text>
<path d="M487.3,277.2 L522,278.5 C530,279 534.5,282 537.8,290.5 L537.8,330.5 C535,324 530.5,321 522,320.2 L487.3,319.5 Z" fill="url(#gOr)" stroke="#f08a4a" stroke-width="1.3"/>
<path d="M557.5,320.9 C570,322.3 585,324.3 600,324.4 L658.8,324.4 L658.8,366.7 L600,366.9 C585,366.6 570,365.6 557.5,364.6 Z" fill="url(#gBl)"/>
<path d="M557.5,320.9 C570,322.3 585,324.3 600,324.4 L658.8,324.4 L658.8,366.7" fill="none" stroke="#1f70c4" stroke-width="1.3"/>
<path d="M658.8,366.7 L600,366.9 C585,366.6 570,365.6 557.5,364.6" fill="none" stroke="#3a88d4" stroke-width="1.2"/>
<path d="M487.3,316.3 L471.2,316.3 L471.2,330.5" fill="none" stroke="#4f4f4f" stroke-width="1.1"/>
<line x1="465.20" y1="330.50" x2="477.50" y2="330.50" stroke="#4f4f4f" stroke-width="1.1" />
<line x1="466.60" y1="334.00" x2="476.40" y2="334.00" stroke="#6a6a6a" stroke-width="1.0" />
<line x1="468.40" y1="337.20" x2="474.40" y2="337.20" stroke="#7a7a7a" stroke-width="1.0" />
<path d="M488.4,327.8 L522,327.8 C527,328 530,329.5 532.6,332" fill="none" stroke="#1b3550" stroke-width="1.4" stroke-dasharray="4.4 1.9"/>
<path d="M562.1,371.3 C566,375 570,376.5 578,377.4 L658.3,378" fill="none" stroke="#1b3550" stroke-width="1.4" stroke-dasharray="4.4 1.9"/>
<path d="M535.3,334.3 L558.3,373.2" fill="none" stroke="#1b3550" stroke-width="1.4" stroke-dasharray="4.2 2"/>
<line x1="539.00" y1="387.90" x2="565.80" y2="387.90" stroke="#6e6e6e" stroke-width="1.7" />
<path d="M539.5,384.6 L532.0,387.9 L539.5,391.2 Z" fill="#6e6e6e"/>
<path d="M538,249.2 L557.1,275.7 L557.5,404.9 L537.9,378.7 Z" fill="url(#gGr)" stroke="url(#gGrS)" stroke-width="1.4"/>
<line x1="532.5" y1="328.5" x2="532.5" y2="312.40000000000003" stroke="#4f4f4f" stroke-width="1.5" stroke-dasharray="4.3 1.6"/>
<path d="M529.7,312.90000000000003 L532.5,307.0 L535.3,312.90000000000003 Z" fill="#4f4f4f"/>
<line x1="528.60" y1="304.80" x2="537.00" y2="304.80" stroke="#4f4f4f" stroke-width="1.5" />
<line x1="532.5" y1="304.8" x2="532.5" y2="284.1" stroke="#4f4f4f" stroke-width="1.5" stroke-dasharray="4.3 1.6"/>
<path d="M529.7,284.6 L532.5,278.7 L535.3,284.6 Z" fill="#4f4f4f"/>
<line x1="562.1" y1="367.5" x2="562.1" y2="351.3" stroke="#4f4f4f" stroke-width="1.5" stroke-dasharray="4.3 1.6"/>
<path d="M559.3000000000001,351.8 L562.1,345.9 L564.9,351.8 Z" fill="#4f4f4f"/>
<line x1="557.70" y1="344.10" x2="566.20" y2="344.10" stroke="#4f4f4f" stroke-width="1.5" />
<line x1="562.1" y1="344.1" x2="562.1" y2="324.90000000000003" stroke="#4f4f4f" stroke-width="1.5" stroke-dasharray="4.3 1.6"/>
<path d="M559.3000000000001,325.40000000000003 L562.1,319.5 L564.9,325.40000000000003 Z" fill="#4f4f4f"/>
<circle cx="532.6" cy="332.0" r="3.7" fill="url(#gCi)" stroke="#6a6a6a" stroke-width="0.5"/>
<line x1="529.7" y1="332.0" x2="535.5" y2="332.0" stroke="#000" stroke-width="1.1"/>
<line x1="532.6" y1="329.1" x2="532.6" y2="334.9" stroke="#000" stroke-width="1.1"/>
<circle cx="532.6" cy="273.6" r="3.7" fill="url(#gCi)" stroke="#6a6a6a" stroke-width="0.5"/>
<line x1="529.7" y1="273.6" x2="535.5" y2="273.6" stroke="#000" stroke-width="1.4"/>
<circle cx="562.1" cy="371.3" r="3.7" fill="url(#gCi)" stroke="#6a6a6a" stroke-width="0.5"/>
<line x1="559.2" y1="371.3" x2="565.0" y2="371.3" stroke="#000" stroke-width="1.1"/>
<line x1="562.1" y1="368.40000000000003" x2="562.1" y2="374.2" stroke="#000" stroke-width="1.1"/>
<circle cx="562.1" cy="315.2" r="3.7" fill="url(#gCi)" stroke="#6a6a6a" stroke-width="0.5"/>
<line x1="559.2" y1="315.2" x2="565.0" y2="315.2" stroke="#000" stroke-width="1.4"/>
<path d="M520.2,267.7 C524,267.3 528,266.9 530.3,266.5 C535.6,265.6 535.4,260.9 530.6,260.9 L529.4,260.9" fill="none" stroke="#6a6a6a" stroke-width="1.6"/>
<path d="M530.2,257.9 L524.9,261 L530.2,264.1 Z" fill="#6a6a6a"/>
<text x="507.30" y="392.10" font-size="10.35" text-anchor="start" font-weight="normal" fill="#231f20" >FNT</text>
<text x="491.60" y="302.90" font-size="10.9" text-anchor="start" fill="#231f20" ><tspan dy="-0.0">BP</tspan><tspan dy="3.2" font-size="7.85">b</tspan></text>
<text x="599.30" y="359.00" font-size="10.9" text-anchor="start" fill="#231f20" ><tspan dy="-0.0">BP</tspan><tspan dy="2.9" font-size="7.85">t</tspan></text>
<g transform="translate(551.4,325.4) rotate(-90)">
<text x="0.00" y="0.00" font-size="11" text-anchor="middle" fill="#231f20" ><tspan dy="-0.0">MoTe</tspan><tspan dy="2.7" font-size="7.92">2</tspan></text>
</g>
<text x="661.60" y="351.20" font-size="10.35" text-anchor="start" fill="#231f20" ><tspan dy="-0.0">+</tspan><tspan dy="0" font-style="italic">V</tspan><tspan dy="2.6" font-size="7.45">ds</tspan></text>
</svg></body></html>
